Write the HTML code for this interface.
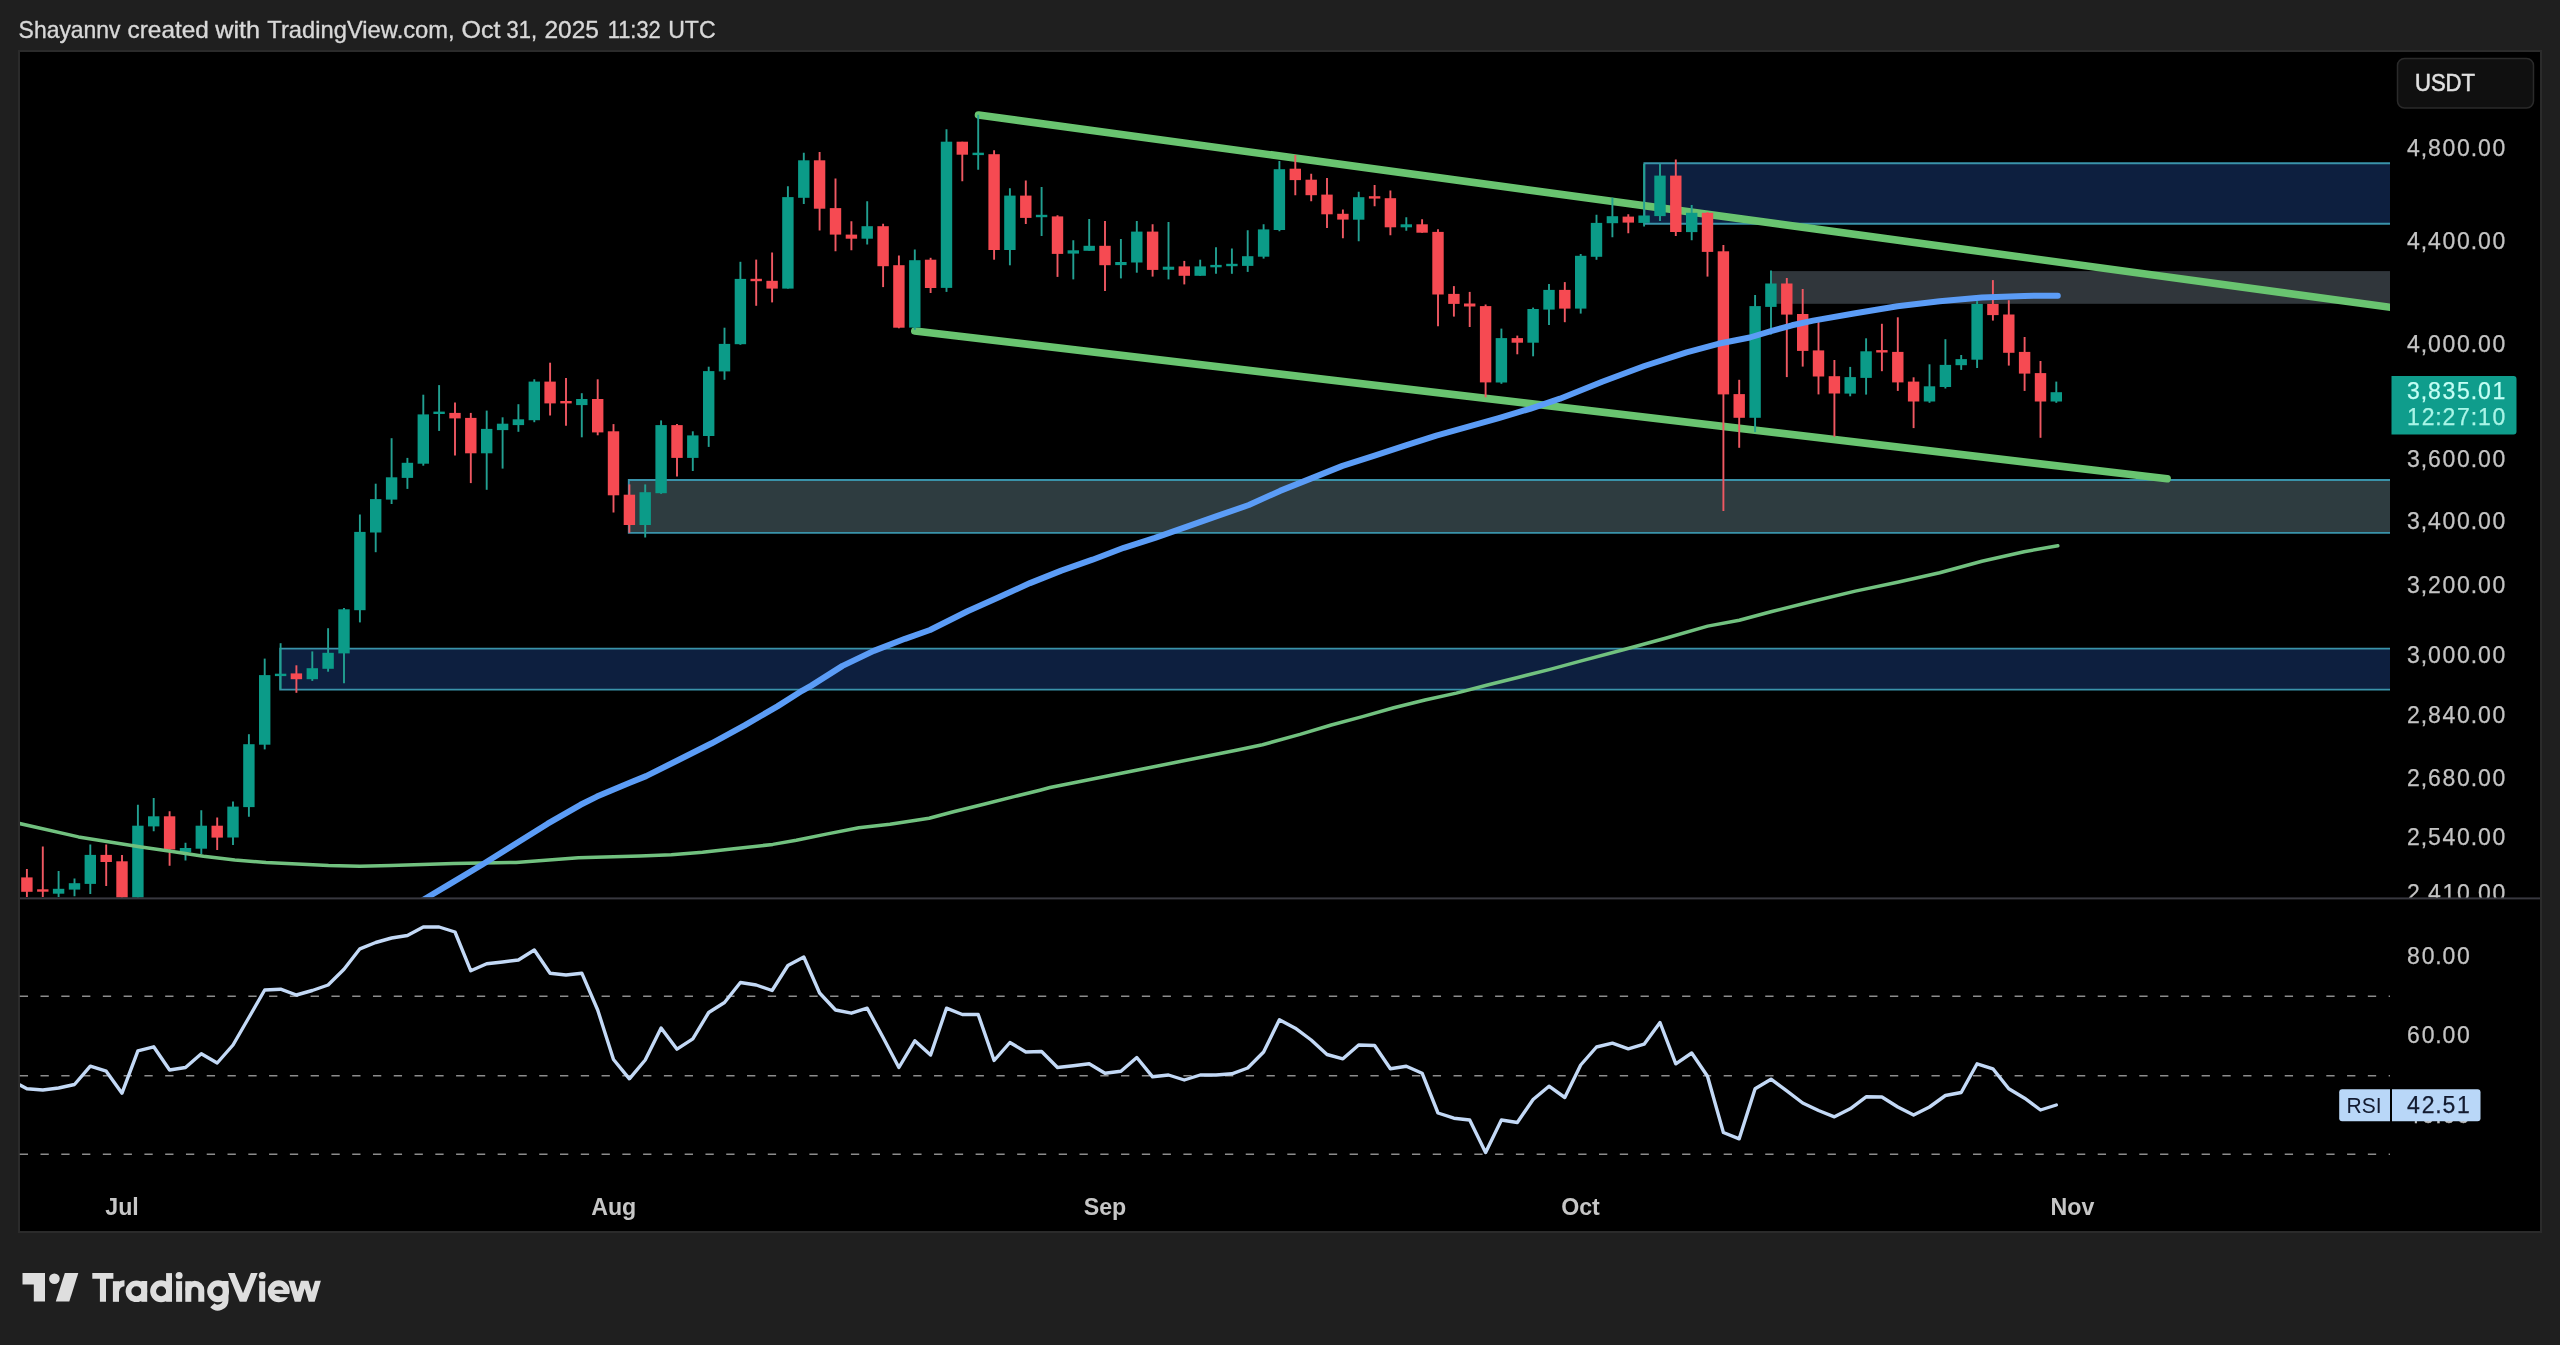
<!DOCTYPE html>
<html lang="en"><head><meta charset="utf-8"><title>TradingView chart snapshot</title>
<style>
html,body{margin:0;padding:0;background:#1f1f1f;}
body{width:2560px;height:1345px;overflow:hidden;position:relative;font-family:"Liberation Sans",sans-serif;}
svg{position:absolute;left:0;top:0;display:block;will-change:transform;}
text{font-family:"Liberation Sans",sans-serif;}
.tm{font-size:23.2px;font-weight:bold;fill:#c6c6c6;}
</style></head><body>
<svg width="2560" height="1345" viewBox="0 0 2560 1345">
<rect x="19" y="51" width="2522" height="1181" fill="#000" stroke="#2b2b2b" stroke-width="2"/>
<text x="18.6" y="37.6" font-size="23.4" fill="#d8d8d8" stroke="#d8d8d8" stroke-width="0.35" textLength="102.0" lengthAdjust="spacingAndGlyphs">Shayannv</text>
<text x="127.6" y="37.6" font-size="23.4" fill="#d8d8d8" stroke="#d8d8d8" stroke-width="0.35" textLength="81.2" lengthAdjust="spacingAndGlyphs">created</text>
<text x="215.2" y="37.6" font-size="23.4" fill="#d8d8d8" stroke="#d8d8d8" stroke-width="0.35" textLength="44.9" lengthAdjust="spacingAndGlyphs">with</text>
<text x="267.3" y="37.6" font-size="23.4" fill="#d8d8d8" stroke="#d8d8d8" stroke-width="0.35" textLength="187.4" lengthAdjust="spacingAndGlyphs">TradingView.com,</text>
<text x="461.5" y="37.6" font-size="23.4" fill="#d8d8d8" stroke="#d8d8d8" stroke-width="0.35" textLength="38.9" lengthAdjust="spacingAndGlyphs">Oct</text>
<text x="506.5" y="37.6" font-size="23.4" fill="#d8d8d8" stroke="#d8d8d8" stroke-width="0.35" textLength="30.5" lengthAdjust="spacingAndGlyphs">31,</text>
<text x="544.4" y="37.6" font-size="23.4" fill="#d8d8d8" stroke="#d8d8d8" stroke-width="0.35" textLength="54.5" lengthAdjust="spacingAndGlyphs">2025</text>
<text x="607.7" y="37.6" font-size="23.4" fill="#d8d8d8" stroke="#d8d8d8" stroke-width="0.35" textLength="53.0" lengthAdjust="spacingAndGlyphs">11:32</text>
<text x="668.2" y="37.6" font-size="23.4" fill="#d8d8d8" stroke="#d8d8d8" stroke-width="0.35" textLength="47.4" lengthAdjust="spacingAndGlyphs">UTC</text>
<defs><clipPath id="mp"><rect x="20" y="52" width="2370" height="845.5"/></clipPath><clipPath id="rp"><rect x="20" y="899" width="2370" height="280"/></clipPath><clipPath id="ap"><rect x="2390" y="52" width="150" height="845.5"/></clipPath></defs>
<g clip-path="url(#mp)">
<rect x="1644.4" y="163.2" width="745.6" height="60.6" fill="#0d1f3f"/>
<path d="M2390 163.2H1644.4V223.8H2390" fill="none" stroke="#3a93aa" stroke-width="1.9"/>
<rect x="1771.7" y="271.1" width="618.3" height="32.7" fill="#30363b"/>
<rect x="628.8" y="480.0" width="1761.2" height="52.9" fill="#2e3c40"/>
<path d="M2390 480.0H628.8V532.9H2390" fill="none" stroke="#3a93aa" stroke-width="1.9"/>
<rect x="280.2" y="648.6" width="2109.8" height="41.0" fill="#0d1f3f"/>
<path d="M2390 648.6H280.2V689.6H2390" fill="none" stroke="#3a93aa" stroke-width="1.9"/>
<path d="M978.5 115L2396 308.1" stroke="#69c470" stroke-width="7.6" stroke-linecap="round" fill="none"/>
<path d="M914.8 331L2167.1 478.8" stroke="#69c470" stroke-width="7.6" stroke-linecap="round" fill="none"/>
<path d="M26.9 869.1V897.0" stroke="#f05862" stroke-width="1.9"/>
<rect x="21.2" y="877.4" width="11.4" height="14.4" fill="#f64a52"/>
<path d="M42.8 846.5V897.0" stroke="#f05862" stroke-width="1.9"/>
<rect x="37.1" y="889.3" width="11.4" height="2.4" fill="#f64a52"/>
<path d="M58.6 871.0V897.0" stroke="#22a091" stroke-width="1.9"/>
<rect x="52.9" y="888.8" width="11.4" height="4.9" fill="#0b9b88"/>
<path d="M74.5 878.4V896.3" stroke="#22a091" stroke-width="1.9"/>
<rect x="68.8" y="883.2" width="11.4" height="6.4" fill="#0b9b88"/>
<path d="M90.3 844.5V894.1" stroke="#22a091" stroke-width="1.9"/>
<rect x="84.6" y="854.9" width="11.4" height="29.0" fill="#0b9b88"/>
<path d="M106.2 844.5V885.9" stroke="#f05862" stroke-width="1.9"/>
<rect x="100.5" y="854.9" width="11.4" height="7.1" fill="#f64a52"/>
<path d="M122.0 854.9V900.0" stroke="#f05862" stroke-width="1.9"/>
<rect x="116.3" y="861.3" width="11.4" height="38.7" fill="#f64a52"/>
<path d="M137.9 804.8V900.0" stroke="#22a091" stroke-width="1.9"/>
<rect x="132.2" y="825.7" width="11.4" height="74.3" fill="#0b9b88"/>
<path d="M153.7 798.1V831.2" stroke="#22a091" stroke-width="1.9"/>
<rect x="148.0" y="816.3" width="11.4" height="10.1" fill="#0b9b88"/>
<path d="M169.6 811.2V865.8" stroke="#f05862" stroke-width="1.9"/>
<rect x="163.9" y="816.3" width="11.4" height="33.2" fill="#f64a52"/>
<path d="M185.5 842.8V860.6" stroke="#22a091" stroke-width="1.9"/>
<rect x="179.8" y="848.0" width="11.4" height="4.5" fill="#0b9b88"/>
<path d="M201.3 810.3V853.9" stroke="#22a091" stroke-width="1.9"/>
<rect x="195.6" y="825.7" width="11.4" height="23.0" fill="#0b9b88"/>
<path d="M217.2 817.5V849.9" stroke="#f05862" stroke-width="1.9"/>
<rect x="211.5" y="825.7" width="11.4" height="11.9" fill="#f64a52"/>
<path d="M233.0 801.4V845.0" stroke="#22a091" stroke-width="1.9"/>
<rect x="227.3" y="806.6" width="11.4" height="30.9" fill="#0b9b88"/>
<path d="M248.9 734.2V816.7" stroke="#22a091" stroke-width="1.9"/>
<rect x="243.2" y="744.2" width="11.4" height="62.9" fill="#0b9b88"/>
<path d="M264.7 658.6V749.4" stroke="#22a091" stroke-width="1.9"/>
<rect x="259.0" y="675.1" width="11.4" height="69.6" fill="#0b9b88"/>
<path d="M280.6 643.2V689.1" stroke="#22a091" stroke-width="1.9"/>
<rect x="274.9" y="673.7" width="11.4" height="2.4" fill="#0b9b88"/>
<path d="M296.4 665.3V692.8" stroke="#f05862" stroke-width="1.9"/>
<rect x="290.7" y="673.4" width="11.4" height="5.8" fill="#f64a52"/>
<path d="M312.3 651.4V680.9" stroke="#22a091" stroke-width="1.9"/>
<rect x="306.6" y="668.2" width="11.4" height="11.0" fill="#0b9b88"/>
<path d="M328.1 628.2V671.7" stroke="#22a091" stroke-width="1.9"/>
<rect x="322.4" y="652.8" width="11.4" height="16.0" fill="#0b9b88"/>
<path d="M344.0 607.9V683.3" stroke="#22a091" stroke-width="1.9"/>
<rect x="338.3" y="609.3" width="11.4" height="44.1" fill="#0b9b88"/>
<path d="M359.9 514.5V622.4" stroke="#22a091" stroke-width="1.9"/>
<rect x="354.2" y="531.9" width="11.4" height="78.3" fill="#0b9b88"/>
<path d="M375.7 483.7V552.2" stroke="#22a091" stroke-width="1.9"/>
<rect x="370.0" y="499.1" width="11.4" height="33.4" fill="#0b9b88"/>
<path d="M391.6 438.2V504.0" stroke="#22a091" stroke-width="1.9"/>
<rect x="385.9" y="477.3" width="11.4" height="22.3" fill="#0b9b88"/>
<path d="M407.4 457.9V488.9" stroke="#22a091" stroke-width="1.9"/>
<rect x="401.7" y="462.8" width="11.4" height="15.1" fill="#0b9b88"/>
<path d="M423.3 394.7V465.7" stroke="#22a091" stroke-width="1.9"/>
<rect x="417.6" y="414.4" width="11.4" height="49.3" fill="#0b9b88"/>
<path d="M439.1 385.1V430.9" stroke="#22a091" stroke-width="1.9"/>
<rect x="433.4" y="411.6" width="11.4" height="2.4" fill="#0b9b88"/>
<path d="M455.0 402.5V455.6" stroke="#f05862" stroke-width="1.9"/>
<rect x="449.3" y="412.9" width="11.4" height="5.5" fill="#f64a52"/>
<path d="M470.8 412.9V483.1" stroke="#f05862" stroke-width="1.9"/>
<rect x="465.1" y="417.9" width="11.4" height="35.4" fill="#f64a52"/>
<path d="M486.7 410.6V489.8" stroke="#22a091" stroke-width="1.9"/>
<rect x="481.0" y="428.9" width="11.4" height="24.4" fill="#0b9b88"/>
<path d="M502.6 417.3V468.6" stroke="#22a091" stroke-width="1.9"/>
<rect x="496.9" y="423.7" width="11.4" height="6.4" fill="#0b9b88"/>
<path d="M518.4 404.2V431.8" stroke="#22a091" stroke-width="1.9"/>
<rect x="512.7" y="419.3" width="11.4" height="5.8" fill="#0b9b88"/>
<path d="M534.3 379.3V422.2" stroke="#22a091" stroke-width="1.9"/>
<rect x="528.6" y="381.6" width="11.4" height="38.6" fill="#0b9b88"/>
<path d="M550.1 362.7V415.5" stroke="#f05862" stroke-width="1.9"/>
<rect x="544.4" y="381.6" width="11.4" height="21.8" fill="#f64a52"/>
<path d="M566.0 378.1V425.7" stroke="#f05862" stroke-width="1.9"/>
<rect x="560.3" y="401.0" width="11.4" height="2.4" fill="#f64a52"/>
<path d="M581.8 393.2V437.3" stroke="#22a091" stroke-width="1.9"/>
<rect x="576.1" y="399.0" width="11.4" height="6.1" fill="#0b9b88"/>
<path d="M597.7 379.3V435.3" stroke="#f05862" stroke-width="1.9"/>
<rect x="592.0" y="399.0" width="11.4" height="33.4" fill="#f64a52"/>
<path d="M613.5 424.1V512.5" stroke="#f05862" stroke-width="1.9"/>
<rect x="607.8" y="431.3" width="11.4" height="64.0" fill="#f64a52"/>
<path d="M629.4 484.4V532.8" stroke="#f05862" stroke-width="1.9"/>
<rect x="623.7" y="494.7" width="11.4" height="30.3" fill="#f64a52"/>
<path d="M645.2 484.4V537.5" stroke="#22a091" stroke-width="1.9"/>
<rect x="639.5" y="492.2" width="11.4" height="32.8" fill="#0b9b88"/>
<path d="M661.1 420.4V493.8" stroke="#22a091" stroke-width="1.9"/>
<rect x="655.4" y="425.1" width="11.4" height="68.1" fill="#0b9b88"/>
<path d="M677.0 424.1V476.6" stroke="#f05862" stroke-width="1.9"/>
<rect x="671.3" y="425.1" width="11.4" height="32.8" fill="#f64a52"/>
<path d="M692.8 431.3V471.0" stroke="#22a091" stroke-width="1.9"/>
<rect x="687.1" y="435.4" width="11.4" height="22.5" fill="#0b9b88"/>
<path d="M708.7 366.7V446.9" stroke="#22a091" stroke-width="1.9"/>
<rect x="703.0" y="371.1" width="11.4" height="64.9" fill="#0b9b88"/>
<path d="M724.5 327.7V379.8" stroke="#22a091" stroke-width="1.9"/>
<rect x="718.8" y="343.9" width="11.4" height="27.5" fill="#0b9b88"/>
<path d="M740.4 261.8V344.8" stroke="#22a091" stroke-width="1.9"/>
<rect x="734.7" y="278.9" width="11.4" height="65.3" fill="#0b9b88"/>
<path d="M756.2 259.6V305.8" stroke="#f05862" stroke-width="1.9"/>
<rect x="750.5" y="278.8" width="11.4" height="2.4" fill="#f64a52"/>
<path d="M772.1 252.4V302.4" stroke="#f05862" stroke-width="1.9"/>
<rect x="766.4" y="280.8" width="11.4" height="7.8" fill="#f64a52"/>
<path d="M787.9 186.2V288.6" stroke="#22a091" stroke-width="1.9"/>
<rect x="782.2" y="197.1" width="11.4" height="91.5" fill="#0b9b88"/>
<path d="M803.8 152.8V204.0" stroke="#22a091" stroke-width="1.9"/>
<rect x="798.1" y="160.3" width="11.4" height="37.5" fill="#0b9b88"/>
<path d="M819.6 151.9V230.5" stroke="#f05862" stroke-width="1.9"/>
<rect x="813.9" y="160.3" width="11.4" height="48.4" fill="#f64a52"/>
<path d="M835.5 178.4V251.2" stroke="#f05862" stroke-width="1.9"/>
<rect x="829.8" y="208.1" width="11.4" height="26.5" fill="#f64a52"/>
<path d="M851.4 221.2V250.2" stroke="#f05862" stroke-width="1.9"/>
<rect x="845.7" y="234.6" width="11.4" height="4.1" fill="#f64a52"/>
<path d="M867.2 201.2V244.6" stroke="#22a091" stroke-width="1.9"/>
<rect x="861.5" y="226.2" width="11.4" height="12.5" fill="#0b9b88"/>
<path d="M883.1 223.7V287.1" stroke="#f05862" stroke-width="1.9"/>
<rect x="877.4" y="226.2" width="11.4" height="40.0" fill="#f64a52"/>
<path d="M898.9 255.5V328.3" stroke="#f05862" stroke-width="1.9"/>
<rect x="893.2" y="265.2" width="11.4" height="62.5" fill="#f64a52"/>
<path d="M914.8 249.6V329.8" stroke="#22a091" stroke-width="1.9"/>
<rect x="909.1" y="260.2" width="11.4" height="67.4" fill="#0b9b88"/>
<path d="M930.6 257.8V293.0" stroke="#f05862" stroke-width="1.9"/>
<rect x="924.9" y="259.7" width="11.4" height="28.3" fill="#f64a52"/>
<path d="M946.5 129.2V291.9" stroke="#22a091" stroke-width="1.9"/>
<rect x="940.8" y="141.7" width="11.4" height="146.2" fill="#0b9b88"/>
<path d="M962.3 141.7V181.2" stroke="#f05862" stroke-width="1.9"/>
<rect x="956.6" y="141.7" width="11.4" height="13.0" fill="#f64a52"/>
<path d="M978.2 114.8V169.8" stroke="#22a091" stroke-width="1.9"/>
<rect x="972.5" y="152.7" width="11.4" height="2.4" fill="#0b9b88"/>
<path d="M994.1 150.3V259.7" stroke="#f05862" stroke-width="1.9"/>
<rect x="988.4" y="154.2" width="11.4" height="95.8" fill="#f64a52"/>
<path d="M1009.9 188.3V265.3" stroke="#22a091" stroke-width="1.9"/>
<rect x="1004.2" y="195.6" width="11.4" height="54.4" fill="#0b9b88"/>
<path d="M1025.8 180.5V223.9" stroke="#f05862" stroke-width="1.9"/>
<rect x="1020.1" y="195.6" width="11.4" height="22.3" fill="#f64a52"/>
<path d="M1041.6 187.0V235.9" stroke="#22a091" stroke-width="1.9"/>
<rect x="1035.9" y="214.8" width="11.4" height="2.4" fill="#0b9b88"/>
<path d="M1057.5 215.3V276.9" stroke="#f05862" stroke-width="1.9"/>
<rect x="1051.8" y="216.4" width="11.4" height="37.5" fill="#f64a52"/>
<path d="M1073.3 240.2V279.4" stroke="#22a091" stroke-width="1.9"/>
<rect x="1067.6" y="250.3" width="11.4" height="3.3" fill="#0b9b88"/>
<path d="M1089.2 219.1V250.8" stroke="#22a091" stroke-width="1.9"/>
<rect x="1083.5" y="245.8" width="11.4" height="5.0" fill="#0b9b88"/>
<path d="M1105.0 221.1V290.9" stroke="#f05862" stroke-width="1.9"/>
<rect x="1099.3" y="245.8" width="11.4" height="19.4" fill="#f64a52"/>
<path d="M1120.9 239.1V278.4" stroke="#22a091" stroke-width="1.9"/>
<rect x="1115.2" y="262.0" width="11.4" height="3.1" fill="#0b9b88"/>
<path d="M1136.8 221.1V272.7" stroke="#22a091" stroke-width="1.9"/>
<rect x="1131.1" y="231.6" width="11.4" height="30.9" fill="#0b9b88"/>
<path d="M1152.6 224.2V276.6" stroke="#f05862" stroke-width="1.9"/>
<rect x="1146.9" y="231.6" width="11.4" height="38.3" fill="#f64a52"/>
<path d="M1168.5 221.9V279.4" stroke="#22a091" stroke-width="1.9"/>
<rect x="1162.8" y="266.7" width="11.4" height="3.1" fill="#0b9b88"/>
<path d="M1184.3 260.9V284.4" stroke="#f05862" stroke-width="1.9"/>
<rect x="1178.6" y="266.4" width="11.4" height="9.4" fill="#f64a52"/>
<path d="M1200.2 259.7V275.8" stroke="#22a091" stroke-width="1.9"/>
<rect x="1194.5" y="266.4" width="11.4" height="9.4" fill="#0b9b88"/>
<path d="M1216.0 247.2V273.8" stroke="#22a091" stroke-width="1.9"/>
<rect x="1210.3" y="264.9" width="11.4" height="2.4" fill="#0b9b88"/>
<path d="M1231.9 248.4V273.8" stroke="#22a091" stroke-width="1.9"/>
<rect x="1226.2" y="263.8" width="11.4" height="2.4" fill="#0b9b88"/>
<path d="M1247.7 230.2V271.9" stroke="#22a091" stroke-width="1.9"/>
<rect x="1242.0" y="256.2" width="11.4" height="9.7" fill="#0b9b88"/>
<path d="M1263.6 224.2V258.6" stroke="#22a091" stroke-width="1.9"/>
<rect x="1257.9" y="229.4" width="11.4" height="27.3" fill="#0b9b88"/>
<path d="M1279.4 160.9V231.2" stroke="#22a091" stroke-width="1.9"/>
<rect x="1273.7" y="169.2" width="11.4" height="60.8" fill="#0b9b88"/>
<path d="M1295.3 155.0V195.2" stroke="#f05862" stroke-width="1.9"/>
<rect x="1289.6" y="168.7" width="11.4" height="11.4" fill="#f64a52"/>
<path d="M1311.2 173.7V201.2" stroke="#f05862" stroke-width="1.9"/>
<rect x="1305.5" y="179.7" width="11.4" height="15.5" fill="#f64a52"/>
<path d="M1327.0 178.1V227.9" stroke="#f05862" stroke-width="1.9"/>
<rect x="1321.3" y="194.6" width="11.4" height="19.7" fill="#f64a52"/>
<path d="M1342.9 209.6V238.3" stroke="#f05862" stroke-width="1.9"/>
<rect x="1337.2" y="213.8" width="11.4" height="5.8" fill="#f64a52"/>
<path d="M1358.7 191.7V241.3" stroke="#22a091" stroke-width="1.9"/>
<rect x="1353.0" y="197.2" width="11.4" height="22.5" fill="#0b9b88"/>
<path d="M1374.6 185.1V206.2" stroke="#f05862" stroke-width="1.9"/>
<rect x="1368.9" y="196.2" width="11.4" height="2.4" fill="#f64a52"/>
<path d="M1390.4 190.5V235.3" stroke="#f05862" stroke-width="1.9"/>
<rect x="1384.7" y="198.2" width="11.4" height="29.1" fill="#f64a52"/>
<path d="M1406.3 217.2V230.7" stroke="#22a091" stroke-width="1.9"/>
<rect x="1400.6" y="224.3" width="11.4" height="3.0" fill="#0b9b88"/>
<path d="M1422.1 219.2V232.7" stroke="#f05862" stroke-width="1.9"/>
<rect x="1416.4" y="224.3" width="11.4" height="8.4" fill="#f64a52"/>
<path d="M1438.0 229.3V326.2" stroke="#f05862" stroke-width="1.9"/>
<rect x="1432.3" y="231.9" width="11.4" height="62.6" fill="#f64a52"/>
<path d="M1453.9 286.1V316.6" stroke="#f05862" stroke-width="1.9"/>
<rect x="1448.2" y="293.9" width="11.4" height="10.0" fill="#f64a52"/>
<path d="M1469.7 291.9V327.0" stroke="#f05862" stroke-width="1.9"/>
<rect x="1464.0" y="303.5" width="11.4" height="3.0" fill="#f64a52"/>
<path d="M1485.6 304.5V397.3" stroke="#f05862" stroke-width="1.9"/>
<rect x="1479.9" y="306.1" width="11.4" height="76.3" fill="#f64a52"/>
<path d="M1501.4 328.6V383.8" stroke="#22a091" stroke-width="1.9"/>
<rect x="1495.7" y="338.1" width="11.4" height="44.4" fill="#0b9b88"/>
<path d="M1517.3 335.6V354.3" stroke="#f05862" stroke-width="1.9"/>
<rect x="1511.6" y="338.1" width="11.4" height="4.6" fill="#f64a52"/>
<path d="M1533.1 307.6V356.3" stroke="#22a091" stroke-width="1.9"/>
<rect x="1527.4" y="309.0" width="11.4" height="33.7" fill="#0b9b88"/>
<path d="M1549.0 284.1V325.0" stroke="#22a091" stroke-width="1.9"/>
<rect x="1543.3" y="289.9" width="11.4" height="19.7" fill="#0b9b88"/>
<path d="M1564.8 282.1V322.2" stroke="#f05862" stroke-width="1.9"/>
<rect x="1559.1" y="289.9" width="11.4" height="18.7" fill="#f64a52"/>
<path d="M1580.7 254.0V313.6" stroke="#22a091" stroke-width="1.9"/>
<rect x="1575.0" y="255.8" width="11.4" height="52.8" fill="#0b9b88"/>
<path d="M1596.5 214.8V259.8" stroke="#22a091" stroke-width="1.9"/>
<rect x="1590.8" y="222.9" width="11.4" height="33.9" fill="#0b9b88"/>
<path d="M1612.4 197.8V237.3" stroke="#22a091" stroke-width="1.9"/>
<rect x="1606.7" y="216.2" width="11.4" height="7.0" fill="#0b9b88"/>
<path d="M1628.3 214.2V233.3" stroke="#f05862" stroke-width="1.9"/>
<rect x="1622.6" y="216.6" width="11.4" height="6.0" fill="#f64a52"/>
<path d="M1644.1 163.8V226.5" stroke="#22a091" stroke-width="1.9"/>
<rect x="1638.4" y="215.5" width="11.4" height="7.4" fill="#0b9b88"/>
<path d="M1660.0 163.8V221.0" stroke="#22a091" stroke-width="1.9"/>
<rect x="1654.3" y="175.6" width="11.4" height="40.5" fill="#0b9b88"/>
<path d="M1675.8 159.6V235.9" stroke="#f05862" stroke-width="1.9"/>
<rect x="1670.1" y="175.6" width="11.4" height="56.4" fill="#f64a52"/>
<path d="M1691.7 205.0V240.3" stroke="#22a091" stroke-width="1.9"/>
<rect x="1686.0" y="212.8" width="11.4" height="19.3" fill="#0b9b88"/>
<path d="M1707.5 211.9V276.6" stroke="#f05862" stroke-width="1.9"/>
<rect x="1701.8" y="212.8" width="11.4" height="39.1" fill="#f64a52"/>
<path d="M1723.4 245.0V511.1" stroke="#f05862" stroke-width="1.9"/>
<rect x="1717.7" y="251.3" width="11.4" height="143.1" fill="#f64a52"/>
<path d="M1739.2 379.8V447.8" stroke="#f05862" stroke-width="1.9"/>
<rect x="1733.5" y="394.1" width="11.4" height="23.7" fill="#f64a52"/>
<path d="M1755.1 295.0V432.1" stroke="#22a091" stroke-width="1.9"/>
<rect x="1749.4" y="306.1" width="11.4" height="111.7" fill="#0b9b88"/>
<path d="M1771.0 270.6V334.4" stroke="#22a091" stroke-width="1.9"/>
<rect x="1765.2" y="283.5" width="11.4" height="23.4" fill="#0b9b88"/>
<path d="M1786.8 278.0V377.1" stroke="#f05862" stroke-width="1.9"/>
<rect x="1781.1" y="283.5" width="11.4" height="31.1" fill="#f64a52"/>
<path d="M1802.7 289.0V366.6" stroke="#f05862" stroke-width="1.9"/>
<rect x="1797.0" y="314.0" width="11.4" height="36.9" fill="#f64a52"/>
<path d="M1818.5 322.0V394.4" stroke="#f05862" stroke-width="1.9"/>
<rect x="1812.8" y="350.4" width="11.4" height="26.1" fill="#f64a52"/>
<path d="M1834.4 360.0V436.8" stroke="#f05862" stroke-width="1.9"/>
<rect x="1828.7" y="376.2" width="11.4" height="17.3" fill="#f64a52"/>
<path d="M1850.2 366.9V396.3" stroke="#22a091" stroke-width="1.9"/>
<rect x="1844.5" y="377.1" width="11.4" height="16.5" fill="#0b9b88"/>
<path d="M1866.1 338.3V394.6" stroke="#22a091" stroke-width="1.9"/>
<rect x="1860.4" y="351.3" width="11.4" height="26.6" fill="#0b9b88"/>
<path d="M1881.9 323.8V371.2" stroke="#f05862" stroke-width="1.9"/>
<rect x="1876.2" y="350.1" width="11.4" height="2.4" fill="#f64a52"/>
<path d="M1897.8 317.3V390.9" stroke="#f05862" stroke-width="1.9"/>
<rect x="1892.1" y="351.9" width="11.4" height="30.5" fill="#f64a52"/>
<path d="M1913.6 377.3V428.1" stroke="#f05862" stroke-width="1.9"/>
<rect x="1907.9" y="381.6" width="11.4" height="19.9" fill="#f64a52"/>
<path d="M1929.5 364.3V402.8" stroke="#22a091" stroke-width="1.9"/>
<rect x="1923.8" y="386.3" width="11.4" height="15.2" fill="#0b9b88"/>
<path d="M1945.4 339.2V388.5" stroke="#22a091" stroke-width="1.9"/>
<rect x="1939.7" y="364.9" width="11.4" height="22.1" fill="#0b9b88"/>
<path d="M1961.2 355.0V369.9" stroke="#22a091" stroke-width="1.9"/>
<rect x="1955.5" y="359.1" width="11.4" height="6.1" fill="#0b9b88"/>
<path d="M1977.1 301.1V368.0" stroke="#22a091" stroke-width="1.9"/>
<rect x="1971.4" y="303.9" width="11.4" height="55.8" fill="#0b9b88"/>
<path d="M1992.9 280.1V320.6" stroke="#f05862" stroke-width="1.9"/>
<rect x="1987.2" y="303.9" width="11.4" height="11.2" fill="#f64a52"/>
<path d="M2008.8 300.2V365.6" stroke="#f05862" stroke-width="1.9"/>
<rect x="2003.1" y="314.5" width="11.4" height="38.3" fill="#f64a52"/>
<path d="M2024.6 337.0V390.9" stroke="#f05862" stroke-width="1.9"/>
<rect x="2018.9" y="351.9" width="11.4" height="21.7" fill="#f64a52"/>
<path d="M2040.5 361.0V437.8" stroke="#f05862" stroke-width="1.9"/>
<rect x="2034.8" y="373.1" width="11.4" height="28.4" fill="#f64a52"/>
<path d="M2056.3 381.6V402.8" stroke="#22a091" stroke-width="1.9"/>
<rect x="2050.6" y="392.2" width="11.4" height="9.3" fill="#0b9b88"/>
<path d="M19.1 823.4L78.5 836.9L141.0 846.9L172.3 851.6L203.5 856.3L234.8 860.0L266.0 862.5L328.5 865.6L359.8 866.3L391.0 865.6L453.5 863.4L516.0 862.5L578.5 857.8L640.0 856.1L671.3 854.7L702.5 852.2L733.8 848.8L772.8 844.4L796.3 840.2L827.5 833.9L858.8 827.7L890.0 824.2L929.1 818.3L952.5 812.0L983.8 804.2L1015.0 796.4L1040.0 790.2L1050.0 787.5L1081.3 781.3L1112.5 775.0L1143.8 768.8L1175.0 762.5L1206.3 756.3L1237.5 750.0L1262.5 744.7L1300.0 734.4L1331.3 725.0L1362.5 716.6L1393.8 707.8L1425.0 700.0L1456.3 693.1L1487.5 685.0L1518.8 677.2L1550.0 669.4L1581.3 660.9L1623.3 649.8L1665.5 638.2L1707.7 626.1L1739.3 620.2L1770.9 611.8L1813.1 601.3L1855.3 591.1L1897.5 582.3L1939.7 572.8L1981.9 561.2L2024.1 551.7L2057.8 545.8" stroke="#71c17f" stroke-width="3.5" stroke-linecap="round" stroke-linejoin="round" fill="none"/>
<path d="M422.0 900.5L427.1 897.5L449.2 884.4L482.0 864.7L514.8 844.2L547.7 823.7L580.5 804.8L596.9 796.6L629.7 782.7L646.1 776.1L678.9 759.7L711.7 743.3L744.6 725.3L777.4 706.4L802.0 690.8L811.3 685.6L842.5 665.9L873.8 650.9L905.0 638.8L930.0 630.0L967.5 611.3L998.8 597.2L1030.0 583.1L1061.3 570.6L1092.5 559.7L1123.8 547.8L1155.0 537.8L1186.3 526.9L1217.5 515.9L1248.8 505.0L1280.0 490.9L1311.3 478.4L1342.5 465.9L1373.8 455.9L1405.0 445.6L1436.3 435.6L1467.5 426.9L1498.8 418.1L1530.0 408.8L1560.0 398.7L1602.2 381.8L1644.4 366.0L1686.6 352.3L1718.2 343.8L1749.8 337.5L1770.9 331.2L1792.0 325.3L1813.1 320.6L1855.3 313.2L1897.5 306.3L1939.7 301.2L1981.9 297.4L2024.1 295.9L2057.8 295.7" stroke="#5b9cf6" stroke-width="6" stroke-linecap="round" stroke-linejoin="round" fill="none"/>
</g>
<rect x="20" y="897.4" width="2520" height="2" fill="#38383f"/>
<path d="M19.72 996.2H2390" stroke="#8c8c8c" stroke-width="1.6" stroke-dasharray="8.3 12.48"/>
<path d="M19.72 1075.7H2390" stroke="#8c8c8c" stroke-width="1.6" stroke-dasharray="8.3 12.48"/>
<path d="M19.72 1154.2H2390" stroke="#8c8c8c" stroke-width="1.6" stroke-dasharray="8.3 12.48"/>
<g clip-path="url(#rp)">
<path d="M20.0 1085.0L26.9 1088.8L42.8 1090.0L58.6 1088.0L74.5 1084.5L90.3 1066.2L106.2 1071.2L122.0 1093.2L137.9 1050.8L153.7 1046.8L169.6 1070.0L185.5 1067.5L201.3 1053.8L217.2 1063.0L233.0 1045.0L248.9 1017.5L264.7 990.0L280.6 989.2L296.4 995.0L312.3 990.5L328.1 985.0L344.0 969.2L359.9 948.8L375.7 942.5L391.6 938.0L407.4 935.5L423.3 927.0L439.1 927.0L455.0 932.0L470.8 970.8L486.7 963.8L502.6 962.0L518.4 960.0L534.3 950.0L550.1 973.2L566.0 975.0L581.8 973.2L597.7 1010.0L613.5 1059.5L629.4 1078.8L645.2 1060.0L661.1 1028.0L677.0 1049.2L692.8 1038.8L708.7 1012.5L724.5 1002.5L740.4 982.5L756.2 985.0L772.1 990.5L787.9 965.5L803.8 957.0L819.6 993.0L835.5 1010.0L851.4 1013.2L867.2 1008.2L883.1 1037.5L898.9 1067.5L914.8 1040.8L930.6 1055.0L946.5 1008.2L962.3 1014.5L978.2 1014.5L994.1 1060.5L1009.9 1042.5L1025.8 1052.0L1041.6 1051.5L1057.5 1067.5L1073.3 1065.8L1089.2 1063.8L1105.0 1073.2L1120.9 1071.2L1136.8 1057.5L1152.6 1076.8L1168.5 1075.0L1184.3 1080.0L1200.2 1075.0L1216.0 1075.0L1231.9 1073.8L1247.7 1068.0L1263.6 1052.0L1279.4 1019.8L1295.3 1028.2L1311.2 1040.0L1327.0 1054.5L1342.9 1058.8L1358.7 1045.0L1374.6 1045.5L1390.4 1068.8L1406.3 1066.2L1422.1 1073.2L1438.0 1113.0L1453.9 1118.2L1469.7 1120.0L1485.6 1152.5L1501.4 1120.0L1517.3 1122.5L1533.1 1099.5L1549.0 1086.2L1564.8 1097.5L1580.7 1065.0L1596.5 1047.0L1612.4 1043.2L1628.3 1048.8L1644.1 1044.2L1660.0 1022.5L1675.8 1063.8L1691.7 1053.0L1707.5 1076.2L1723.4 1132.5L1739.2 1138.8L1755.1 1088.8L1771.0 1079.2L1786.8 1090.8L1802.7 1103.0L1818.5 1110.5L1834.4 1116.8L1850.2 1108.8L1866.1 1096.8L1881.9 1097.0L1897.8 1107.0L1913.6 1115.0L1929.5 1107.0L1945.4 1095.5L1961.2 1092.5L1977.1 1063.8L1992.9 1068.8L2008.8 1088.8L2024.6 1098.2L2040.5 1110.0L2056.3 1105.0" stroke="#c3d9f6" stroke-width="3.4" stroke-linejoin="round" stroke-linecap="round" fill="none"/>
</g>
<g clip-path="url(#ap)">
<text x="2407.1 2420.7 2427.9 2442.5 2457.1 2470.7 2477.9 2492.5" y="155.5" font-size="23.0" fill="#c4c4c4" stroke="#c4c4c4" stroke-width="0.25">4,800.00</text>
<text x="2407.1 2420.7 2427.9 2442.5 2457.1 2470.7 2477.9 2492.5" y="248.8" font-size="23.0" fill="#c4c4c4" stroke="#c4c4c4" stroke-width="0.25">4,400.00</text>
<text x="2407.1 2420.7 2427.9 2442.5 2457.1 2470.7 2477.9 2492.5" y="352.3" font-size="23.0" fill="#c4c4c4" stroke="#c4c4c4" stroke-width="0.25">4,000.00</text>
<text x="2407.1 2420.7 2427.9 2442.5 2457.1 2470.7 2477.9 2492.5" y="466.5" font-size="23.0" fill="#c4c4c4" stroke="#c4c4c4" stroke-width="0.25">3,600.00</text>
<text x="2407.1 2420.7 2427.9 2442.5 2457.1 2470.7 2477.9 2492.5" y="528.7" font-size="23.0" fill="#c4c4c4" stroke="#c4c4c4" stroke-width="0.25">3,400.00</text>
<text x="2407.1 2420.7 2427.9 2442.5 2457.1 2470.7 2477.9 2492.5" y="593.3" font-size="23.0" fill="#c4c4c4" stroke="#c4c4c4" stroke-width="0.25">3,200.00</text>
<text x="2407.1 2420.7 2427.9 2442.5 2457.1 2470.7 2477.9 2492.5" y="663.0" font-size="23.0" fill="#c4c4c4" stroke="#c4c4c4" stroke-width="0.25">3,000.00</text>
<text x="2407.1 2420.7 2427.9 2442.5 2457.1 2470.7 2477.9 2492.5" y="723.4" font-size="23.0" fill="#c4c4c4" stroke="#c4c4c4" stroke-width="0.25">2,840.00</text>
<text x="2407.1 2420.7 2427.9 2442.5 2457.1 2470.7 2477.9 2492.5" y="785.5" font-size="23.0" fill="#c4c4c4" stroke="#c4c4c4" stroke-width="0.25">2,680.00</text>
<text x="2407.1 2420.7 2427.9 2442.5 2457.1 2470.7 2477.9 2492.5" y="844.6" font-size="23.0" fill="#c4c4c4" stroke="#c4c4c4" stroke-width="0.25">2,540.00</text>
<text x="2407.1 2420.7 2427.9 2442.5 2457.1 2470.7 2477.9 2492.5" y="900.7" font-size="23.0" fill="#c4c4c4" stroke="#c4c4c4" stroke-width="0.25">2,410.00</text>
</g>
<text x="2407.1 2421.7 2435.3 2442.5 2457.1" y="964.3" font-size="23.0" fill="#c4c4c4" stroke="#c4c4c4" stroke-width="0.25">80.00</text>
<text x="2407.1 2421.7 2435.3 2442.5 2457.1" y="1043.4" font-size="23.0" fill="#c4c4c4" stroke="#c4c4c4" stroke-width="0.25">60.00</text>
<text x="2407.1 2421.7 2435.3 2442.5 2457.1" y="1122.5" font-size="23.0" fill="#c4c4c4" stroke="#c4c4c4" stroke-width="0.25">40.00</text>
<rect x="2397.5" y="58.5" width="136" height="49.5" rx="7" fill="#101010" stroke="#2a2a2a" stroke-width="1.5"/>
<text x="2415" y="91.2" font-size="23.9" fill="#e0e0e0" stroke="#e0e0e0" stroke-width="0.55" textLength="60" lengthAdjust="spacingAndGlyphs">USDT</text>
<path d="M2391.5 376H2513.5a3 3 0 0 1 3 3V431.5a3 3 0 0 1-3 3H2391.5Z" fill="#0f9d8c"/>
<text x="2407.1 2420.7 2427.9 2442.5 2457.1 2470.7 2477.9 2492.5" y="398.8" font-size="23.0" fill="#c4fff5" stroke="#c4fff5" stroke-width="0.25">3,835.01</text>
<text x="2407.1 2421.7 2435.3 2442.5 2457.1 2470.7 2477.9 2492.5" y="425.0" font-size="23.0" fill="#a9f5e7" stroke="#a9f5e7" stroke-width="0.25">12:27:10</text>
<path d="M2342.2 1089.2H2390V1121.2H2342.2a3 3 0 0 1-3-3V1092.2a3 3 0 0 1 3-3Z" fill="#b9d7f8"/>
<path d="M2392 1089.2H2477.5a3 3 0 0 1 3 3V1118.2a3 3 0 0 1-3 3H2392Z" fill="#b9d7f8"/>
<text x="2346.6" y="1112.6" font-size="22.8" fill="#131b30" textLength="35" lengthAdjust="spacingAndGlyphs">RSI</text>
<text x="2407.1 2421.7 2435.3 2442.5 2457.1" y="1112.6" font-size="23.0" fill="#131b30" stroke="#131b30" stroke-width="0.25">42.51</text>
<text class="tm" x="122.0" y="1215.2" text-anchor="middle">Jul</text>
<text class="tm" x="613.7" y="1215.2" text-anchor="middle">Aug</text>
<text class="tm" x="1105.0" y="1215.2" text-anchor="middle">Sep</text>
<text class="tm" x="1580.5" y="1215.2" text-anchor="middle">Oct</text>
<text class="tm" x="2072.5" y="1215.2" text-anchor="middle">Nov</text>
<g fill="#dedede">
<path d="M22.5 1273H45V1301.4H33.8V1284.6H22.5Z"/>
<circle cx="54.4" cy="1278.7" r="5.3"/>
<path d="M64.8 1273H78.3L69.3 1301.4H55.8Z"/>
<defs><clipPath id="lc"><rect x="85" y="1273.1" width="245" height="28.7"/></clipPath><clipPath id="lx"><rect x="85" y="1280.7" width="245" height="21.1"/></clipPath></defs>
<path d="M92.3 1273.1H113.4V1278.8H106V1301.8H99.9V1278.8H92.3Z"/>
<rect x="112.9" y="1281.2" width="6.1" height="20.6"/>
<path d="M116.3 1291.4A8.2 8.2 0 0 1 124.5 1283.2" fill="none" stroke="#dedede" stroke-width="5.9"/>
<circle cx="136.4" cy="1291.3" r="7.9" fill="none" stroke="#dedede" stroke-width="5.8"/>
<rect x="141.3" y="1281" width="5.9" height="20.8"/>
<circle cx="161.1" cy="1291.3" r="8" fill="none" stroke="#dedede" stroke-width="5.9"/>
<rect x="166.1" y="1273.1" width="5.9" height="28.7"/>
<rect x="176.1" y="1281.2" width="6" height="20.6"/><circle cx="179.1" cy="1275.45" r="3.5"/>
<rect x="185.3" y="1281.2" width="6" height="20.6"/>
<path d="M201.3 1301.8V1290.3A6.5 6.5 0 0 0 188.3 1290.3" fill="none" stroke="#dedede" stroke-width="6"/>
<circle cx="218.1" cy="1291.3" r="8" fill="none" stroke="#dedede" stroke-width="5.9"/>
<path d="M225.55 1281V1300A7.6 7.6 0 0 1 212.4 1305.2" fill="none" stroke="#dedede" stroke-width="5.9"/>
<path d="M225.65 1259.1L243.1 1301.8L259.7 1259.1" fill="none" stroke="#dedede" stroke-width="6.3" stroke-miterlimit="10" clip-path="url(#lc)"/>
<rect x="259.2" y="1281.2" width="6" height="20.6"/><circle cx="262.25" cy="1275.45" r="3.5"/>
<clipPath id="le"><path d="M260 1270H300V1293.9H279.5V1297.3H300V1312H260Z"/></clipPath>
<g clip-path="url(#le)"><circle cx="278.75" cy="1291.3" r="8" fill="none" stroke="#dedede" stroke-width="5.9"/><rect x="272.5" y="1289.8" width="14" height="4.1"/></g>
<path d="M289.4 1273.7L297.7 1301.8L304.7 1278.2L311.7 1301.8L320 1273.7" fill="none" stroke="#dedede" stroke-width="5.7" stroke-miterlimit="10" clip-path="url(#lx)"/>
</g>
</svg>
</body></html>
